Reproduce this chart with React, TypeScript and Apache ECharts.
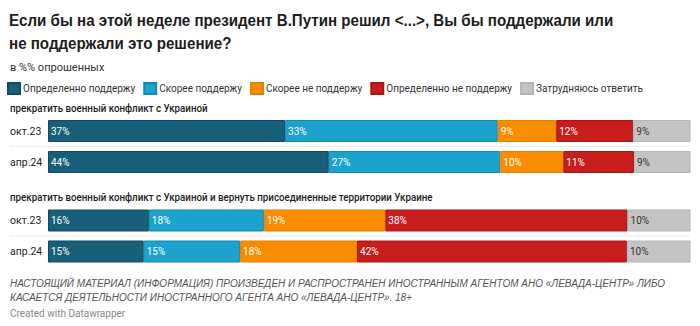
import React, { useEffect, useRef } from "react";
import * as echarts from "echarts";

const seriesNames = [
  "Определенно поддержу",
  "Скорее поддержу",
  "Скорее не поддержу",
  "Определенно не поддержу",
  "Затрудняюсь ответить",
];
const colors = ["#18607a", "#1ba2cd", "#fa8c00", "#c71e1d", "#c4c4c4"];
const borderColors = ["#0f4a5f", "#1388b0", "#e67e00", "#a81616", "#b4b4b4"];
const labelColors = ["#ffffff", "#ffffff", "#ffffff", "#ffffff", "#333333"];

const groupTitles = [
  "прекратить военный конфликт с Украиной",
  "прекратить военный конфликт с Украиной и вернуть присоединенные территории Украине",
];
const periods = ["окт.23", "апр.24"];

// values per series [group][period]
const definitelySupport = [[36.9, 43.7], [15.7, 14.9]];
const ratherSupport = [[33.1, 26.7], [17.9, 15.0]];
const ratherNotSupport = [[9.1, 9.8], [18.9, 18.2]];
const definitelyNot = [[12.0, 11.0], [37.7, 42.0]];
const hardToSay = [[8.9, 8.8], [9.8, 9.9]];

const allSeries = [definitelySupport, ratherSupport, ratherNotSupport, definitelyNot, hardToSay];

const title1 = "Если бы на этой неделе президент В.Путин решил <...>, Вы бы поддержали или";
const title2 = "не поддержали это решение?";
const subtitle = "в %% опрошенных";
const footer1 =
  "НАСТОЯЩИЙ МАТЕРИАЛ (ИНФОРМАЦИЯ) ПРОИЗВЕДЕН И РАСПРОСТРАНЕН ИНОСТРАННЫМ АГЕНТОМ АНО «ЛЕВАДА-ЦЕНТР» ЛИБО";
const footer2 = "КАСАЕТСЯ ДЕЯТЕЛЬНОСТИ ИНОСТРАННОГО АГЕНТА АНО «ЛЕВАДА-ЦЕНТР». 18+";
const credit = "Created with Datawrapper";

export default function App() {
  const ref = useRef<HTMLDivElement>(null);
  useEffect(() => {
    if (!ref.current) return;
    const chart = echarts.init(ref.current, null, { renderer: "svg" });
    const font = "Roboto, 'Noto Sans', sans-serif";
    const sans = "'Liberation Sans', Arial, sans-serif";
    const gridTops = [115.5, 205];
    const grids = gridTops.map((t) => ({ left: 48, right: 9.5, top: t, height: 62 }));
    const xAxes = gridTops.map((_, i) => ({
      type: "value",
      gridIndex: i,
      min: 0,
      max: 100,
      show: false,
    }));
    const yAxes = gridTops.map((_, i) => ({
      type: "category",
      gridIndex: i,
      data: periods,
      inverse: true,
      axisLine: { show: false },
      axisTick: { show: false },
      splitLine: { show: false },
      axisLabel: {
        align: "left",
        margin: 38,
        color: "#222",
        fontFamily: font,
        fontSize: 10.5,
      },
    }));
    const series: any[] = [];
    [0, 1].forEach((g) => {
      allSeries.forEach((s, si) => {
        series.push({
          name: seriesNames[si],
          type: "bar",
          stack: "g" + g,
          xAxisIndex: g,
          yAxisIndex: g,
          barWidth: 22,
          data: s[g],
          itemStyle: {
            color: colors[si],
            borderColor: borderColors[si],
            borderWidth: 1,
          },
          label: {
            show: true,
            position: "insideLeft",
            distance: 3,
            color: labelColors[si],
            fontFamily: font,
            fontSize: 10,
            formatter: (p: any) => Math.round(p.value) + "%",
          },
        });
      });
    });
    const textEl = (text: string, x: number, y: number, style: any, extra: any = {}) => ({
      type: "text",
      x,
      y,
      ...extra,
      style: { text, fontFamily: font, ...style },
    });
    const titleStyle = { fontFamily: sans, fontSize: 17, fontWeight: "bold", fill: "#1d1d1d" };
    chart.setOption({
      animation: false,
      grid: grids,
      xAxis: xAxes,
      yAxis: yAxes,
      legend: {
        data: seriesNames,
        left: 7,
        top: 82,
        itemWidth: 12,
        itemHeight: 11,
        itemGap: 8,
        icon: "rect",
        padding: 0,
        textStyle: { fontFamily: font, fontSize: 10, color: "#333", padding: [0, 0, 0, -2] },
        selectedMode: false,
      },
      series,
      graphic: [
        textEl(title1, 9, 11, titleStyle, { scaleX: 0.89 }),
        textEl(title2, 9, 34, titleStyle, { scaleX: 0.89 }),
        textEl(subtitle, 10, 61.5, { fontSize: 11, fill: "#333" }),
        textEl(groupTitles[0], 10, 102, { fontSize: 11.5, fontWeight: 500, fill: "#1d1d1d" }, { scaleX: 0.85 }),
        textEl(groupTitles[1], 10, 191.5, { fontSize: 11.5, fontWeight: 500, fill: "#1d1d1d" }, { scaleX: 0.85 }),
        {
          type: "line",
          shape: { x1: 10, y1: 146.5, x2: 690, y2: 146.5 },
          style: { stroke: "#dddddd", lineWidth: 1, lineDash: [1, 1] },
        },
        {
          type: "line",
          shape: { x1: 10, y1: 236, x2: 690, y2: 236 },
          style: { stroke: "#dddddd", lineWidth: 1, lineDash: [1, 1] },
        },
        textEl(footer1, 10, 278.5, { fontFamily: sans, fontSize: 10, fontStyle: "italic", fill: "#555" }),
        textEl(footer2, 10, 292.5, { fontFamily: sans, fontSize: 10, fontStyle: "italic", fill: "#555" }),
        textEl(credit, 10, 308, { fontSize: 10, fill: "#888" }),
      ],
    });
    return () => chart.dispose();
  }, []);
  return (
    <div
      ref={ref}
      style={{ position: "fixed", left: 0, top: 0, width: 700, height: 326, background: "#fff" }}
    />
  );
}
